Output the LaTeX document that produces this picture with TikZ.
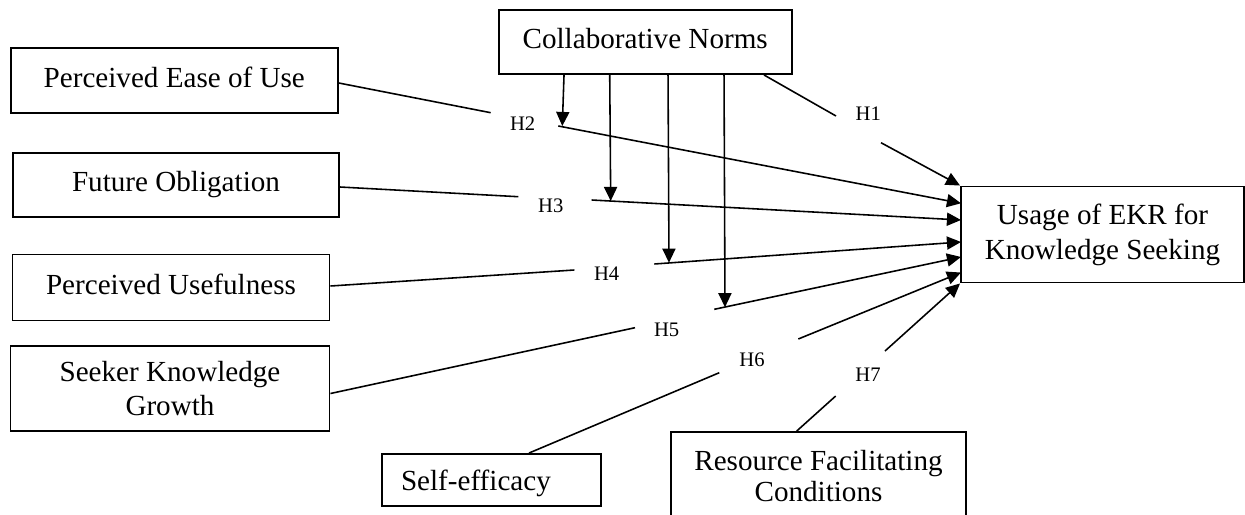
\documentclass[tikz,border=0pt]{standalone}
\usepackage{fontspec}
\setmainfont{Liberation Serif}
\usetikzlibrary{arrows.meta, calc}
\newcommand{\pxu}{0.412pt}

\begin{document}
\begin{tikzpicture}[
        x=\pxu, y=-\pxu,
        cons/.style={rectangle, draw, line width=0.8pt, align=center, inner sep=0pt,
                     font=\fontsize{12}{14}\selectfont},
        one/.style={text height=8.2pt, text depth=2.6pt},
        hyp/.style={inner sep=0pt, font=\fontsize{8.5}{10}\selectfont},
        link/.style={line width=0.65pt},
        arr/.style={-{Triangle[length=5.8pt, width=5.4pt]}, line width=0.65pt}
      ]
        \useasboundingbox (0,0) rectangle (1245,514);
        \node[cons, one, minimum width=327*\pxu, minimum height=65*\pxu] (peu) at (174.3,80.5) {Perceived Ease of Use};
        \node[cons, one, minimum width=326*\pxu, minimum height=64*\pxu] (fo) at (176,185) {Future Obligation};
        \node[cons, one, minimum width=317*\pxu, minimum height=66*\pxu] (pu) at (171,287.5) {Perceived Usefulness};
        \node[cons, minimum width=319*\pxu, minimum height=85*\pxu] (skg) at (170,388.5) {Seeker Knowledge\\Growth};
        \node[cons, align=left, text width=181*\pxu, inner xsep=19*\pxu, text depth=0pt,
              minimum height=52*\pxu] (se) at (491.5,480) {Self-efficacy};
        \node[cons, font=\fontsize{12}{12.4}\selectfont, minimum width=295*\pxu, minimum height=88*\pxu] (rfc) at (818.5,476) {Resource Facilitating\\Conditions};
        \node[cons, one, minimum width=293*\pxu, minimum height=64*\pxu] (cn) at (645.2,42) {Collaborative Norms};
        \node[cons, font=\fontsize{12}{14.5}\selectfont, minimum width=283*\pxu, minimum height=96*\pxu] (usage) at (1102.5,234.5) {Usage of EKR for\\Knowledge Seeking};

        % hypothesis labels
        \node[hyp] (h1) at (868.3,114) {H1};
        \node[hyp] (h2) at (522.7,123.5) {H2};
        \node[hyp] (h3) at (550.8,205.7) {H3};
        \node[hyp] (h4) at (606.7,273.3) {H4};
        \node[hyp] (h5) at (666.7,330) {H5};
        \node[hyp] (h6) at (752,359.7) {H6};
        \node[hyp] (h7) at (868,375) {H7};

        % ends of the gaps round the labels
        \coordinate (a1) at (836,116);   \coordinate (b1) at (881,142.7);
        \coordinate (a2) at (490.7,112.7); \coordinate (b2) at (558.3,126);
        \coordinate (a3) at (518.3,196.7); \coordinate (b3) at (591.7,200);
        \coordinate (a4) at (574.3,270); \coordinate (b4) at (654.3,264);
        \coordinate (a5) at (635,327.7); \coordinate (b5) at (714.3,309.3);
        \coordinate (a6) at (719.3,372.7); \coordinate (b6) at (798.3,339);
        \coordinate (a7) at (835.7,396); \coordinate (b7) at (885,351);
        % targets on the left side of the outcome
        \coordinate (t2) at (961,203.3);
        \coordinate (t3) at (961,220);
        \coordinate (t4) at (961,242);
        \coordinate (t5) at (961,257);
        \coordinate (t6) at (961,272.5);
        % moderating arrow tips
        \coordinate (m2) at (562.3,126);
        \coordinate (m3) at (610.7,201);
        \coordinate (m4) at (669,262.7);
        \coordinate (m5) at (725,307.2);

        \draw[link] ($(cn.south west)+(266.3,0)$) -- (a1);
        \draw[arr] (b1) -- (usage.north west);
        \draw[link] ($(peu.east)+(0,2.5)$) -- (a2);
        \draw[arr] (b2) -- (t2);
        \draw[link] ($(fo.east)+(0,2)$) -- (a3);
        \draw[arr] (b3) -- (t3);
        \draw[link] ($(pu.east)+(0,-1.5)$) -- (a4);
        \draw[arr] (b4) -- (t4);
        \draw[link] ($(skg.east)+(0,5)$) -- (a5);
        \draw[arr] (b5) -- (t5);
        \draw[link] ($(se.north west)+(148,0)$) -- (a6);
        \draw[arr] (b6) -- (t6);
        \draw[link] ($(rfc.north west)+(126.7,0)$) -- (a7);
        \draw[arr] (b7) -- (usage.south west);

        \draw[arr] ($(cn.south west)+(66.3,0)$) -- (m2);
        \draw[arr] ($(cn.south west)+(112,0)$) -- (m3);
        \draw[arr] ($(cn.south west)+(170.3,0)$) -- (m4);
        \draw[arr] ($(cn.south west)+(226.3,0)$) -- (m5);
      \end{tikzpicture}
\end{document}
